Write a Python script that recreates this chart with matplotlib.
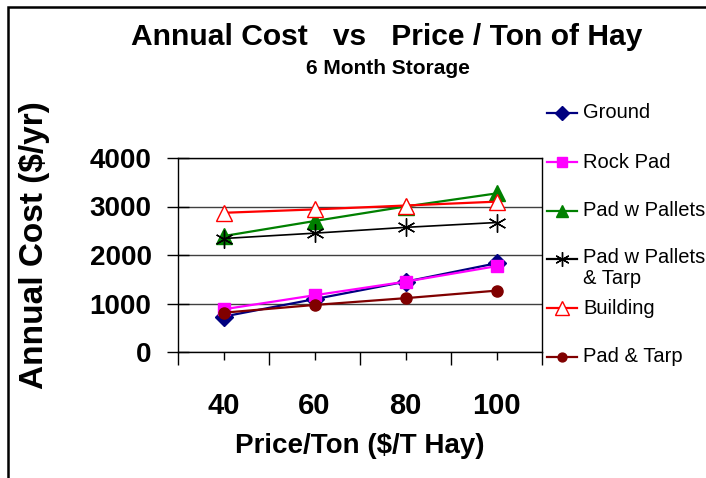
import matplotlib
matplotlib.use("Agg")
import matplotlib.pyplot as plt
from matplotlib.lines import Line2D
from matplotlib.patches import Rectangle

# hay storage cost vs price per ton, 6 month storage
prices = ["40", "60", "80", "100"]

ground = [730, 1090, 1450, 1830]
rock_pad = [880, 1170, 1450, 1770]
pad_pallets = [2390, 2700, 3000, 3270]
pad_pallets_tarp = [2340, 2450, 2570, 2670]
building = [2870, 2940, 3020, 3100]
pad_tarp = [810, 970, 1110, 1265]

labels = ["Ground", "Rock Pad", "Pad w Pallets", "Pad w Pallets\n& Tarp", "Building", "Pad & Tarp"]
series = [ground, rock_pad, pad_pallets, pad_pallets_tarp, building, pad_tarp]
colors = ["#000080", "#FF00FF", "#008000", "#000000", "#FF0000", "#800000"]
markers = ["D", "s", "^", (6, 2, 0), "^", "o"]
msizes = [9, 9, 11, 13, 12, 8]
mfaces = ["#000080", "#FF00FF", "#008000", "#000000", "white", "#800000"]

plt.rcParams["font.family"] = ["Liberation Sans", "DejaVu Sans"]
plt.rcParams["font.weight"] = "bold"

fig = plt.figure(figsize=(7.06, 4.78), dpi=100)
W, H = 706, 478
ax = fig.add_axes([178 / W, 1 - 352 / H, (542 - 178) / W, (352 - 158) / H])

x = list(range(len(prices)))
for vals, lab, c, m, ms, mf in zip(series, labels, colors, markers, msizes, mfaces):
    lw = 1.2 if c == "#000000" else 1.6
    ax.plot(x, vals, color=c, lw=lw, marker=m, ms=ms, mfc=mf, mec=c,
            mew=1.0, label=lab, clip_on=False, zorder=3)

ax.set_xlim(-0.5, 3.5)
ax.set_ylim(0, 4000)
ax.set_yticks([0, 1000, 2000, 3000, 4000])
ax.set_yticklabels(["0", "1000", "2000", "3000", "4000"], fontsize=20, fontweight="bold")
ax.set_xticks(x)
ax.set_xticklabels(prices, fontsize=21, fontweight="bold")
ax.set_xticks([-0.5, 0.5, 1.5, 2.5, 3.5], minor=True)
ax.tick_params(axis="x", which="major", direction="out", length=6, width=1, pad=23)
ax.tick_params(axis="x", which="minor", direction="out", length=9, width=1)
ax.tick_params(axis="y", which="major", direction="inout", length=16, width=1, pad=11)
ax.grid(axis="y", color="#404040", lw=1)
ax.set_axisbelow(True)
for s in ax.spines.values():
    s.set_linewidth(1)
    s.set_color("black")

fig.text(360 / W, 1 - 446 / H, "Price/Ton ($/T Hay)", fontsize=20, fontweight="bold",
         ha="center", va="center")
fig.text(35 / W, 1 - 245 / H, "Annual Cost ($/yr)", rotation=90, fontsize=24,
         fontweight="bold", ha="center", va="center")

fig.text(387 / W, 1 - 37 / H, "Annual Cost   vs   Price / Ton of Hay", fontsize=21.6,
         fontweight="bold", ha="center", va="center")
fig.text(388 / W, 1 - 68 / H, "6 Month Storage", fontsize=15,
         fontweight="bold", ha="center", va="center")

# legend drawn by hand so the two-line entry keeps the Excel spacing
leg_y = [113, 162, 211, 259, 308, 357]
for yy, lab, c, m, ms, mf in zip(leg_y, labels, colors, markers, msizes, mfaces):
    fig.add_artist(Line2D([547 / W, 577 / W], [1 - yy / H] * 2, color=c, lw=1.6))
    fig.add_artist(Line2D([562 / W], [1 - yy / H], marker=m, ms=ms * 0.8, mfc=mf,
                          mec=c, mew=1.0, color=c))
    if "\n" in lab:
        fig.text(583 / W, 1 - (yy - 11) / H, lab, fontsize=14.5, fontweight="normal",
                 ha="left", va="top", linespacing=1.15)
    else:
        fig.text(583 / W, 1 - yy / H, lab, fontsize=14.5, fontweight="normal",
                 ha="left", va="center")

fig.add_artist(Rectangle((8 / W, -0.1), 1.2, 1.1 - 7 / H, transform=fig.transFigure,
                         fill=False, edgecolor="black", lw=1.8, clip_on=False))

fig.savefig("out.png", dpi=100)
